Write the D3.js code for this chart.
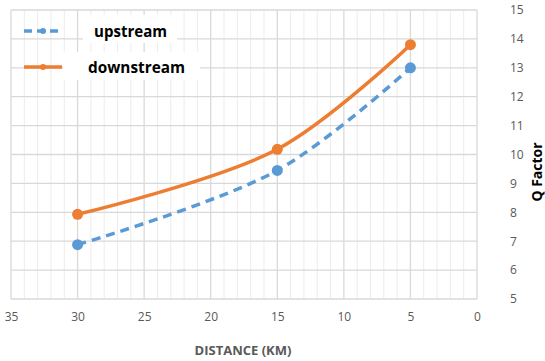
<!DOCTYPE html>
<html><head><meta charset="utf-8">
<script src="https://cdn.jsdelivr.net/npm/d3@7"></script>
<style>body{margin:0;background:#fff}svg{display:block}</style>
</head><body>
<svg id="c" width="545" height="361"></svg>
<script>
const distances = [30, 15, 5];
const upstream = [6.88, 9.45, 13.0];
const downstream = [7.93, 10.18, 13.8];
const seriesNames = ["upstream", "downstream"];
const xTicks = [35, 30, 25, 20, 15, 10, 5, 0];
const yTicks = [5, 6, 7, 8, 9, 10, 11, 12, 13, 14, 15];

const svg = d3.select("#c");
const x = d3.scaleLinear().domain([35, 0]).range([11, 477]);
const y = d3.scaleLinear().domain([5, 15]).range([299, 10]);

// minor vertical grid
svg.append("g").selectAll("line").data(d3.range(0, 36, 1).filter(v => v % 5 !== 0))
  .join("line").attr("x1", d => x(d)).attr("x2", d => x(d)).attr("y1", y(5)).attr("y2", y(15))
  .attr("stroke", "#ececec").attr("stroke-width", 1);
// major horizontal grid
svg.append("g").selectAll("line").data(yTicks)
  .join("line").attr("x1", x(35)).attr("x2", x(0)).attr("y1", d => y(d)).attr("y2", d => y(d))
  .attr("stroke", "#d9d9d9").attr("stroke-width", 1.3);
// major vertical grid
svg.append("g").selectAll("line").data(xTicks)
  .join("line").attr("x1", d => x(d)).attr("x2", d => x(d)).attr("y1", y(5)).attr("y2", y(15))
  .attr("stroke", "#d9d9d9").attr("stroke-width", 1.3);

// axes
const xAxis = d3.axisBottom(x).tickValues(xTicks).tickSize(0).tickPadding(13);
const gx = svg.append("g").attr("transform", `translate(0,${y(5)})`).call(xAxis);
gx.select(".domain").remove();
gx.selectAll("text").attr("fill", "#595959").style("font-family", "'Open Sans', sans-serif").style("font-size", "12px");

const yAxis = d3.axisRight(y).tickValues(yTicks).tickSize(0).tickPadding(33);
const gy = svg.append("g").attr("transform", `translate(${x(0)},0)`).call(yAxis);
gy.select(".domain").remove();
gy.selectAll("text").attr("fill", "#595959").style("font-family", "'Open Sans', sans-serif").style("font-size", "12px");

// legend white boxes
svg.append("rect").attr("x", 83).attr("y", 15).attr("width", 94).attr("height", 28).attr("fill", "#fff");
svg.append("rect").attr("x", 63).attr("y", 52).attr("width", 137).attr("height", 28).attr("fill", "#fff");

const colors = ["#5b9bd5", "#ed7d31"];
const data = [upstream, downstream];
const line = d3.line().x(d => x(d[0])).y(d => y(d[1])).curve(d3.curveCatmullRom.alpha(0.5));

data.forEach((vals, i) => {
  const pts = distances.map((d, j) => [d, vals[j]]);
  svg.append("path").datum(pts).attr("d", line).attr("fill", "none")
    .attr("stroke", colors[i]).attr("stroke-width", 3.5)
    .attr("stroke-dasharray", i === 0 ? "9,6" : null);
  svg.append("g").selectAll("circle").data(pts).join("circle")
    .attr("cx", d => x(d[0])).attr("cy", d => y(d[1])).attr("r", 5.5).attr("fill", colors[i]);
});

// legend
const legY = [31, 67];
const legTextX = [94, 88];
const legTextLen = [73, 97];
seriesNames.forEach((n, i) => {
  svg.append("line").attr("x1", 24).attr("x2", 62).attr("y1", legY[i]).attr("y2", legY[i])
    .attr("stroke", colors[i]).attr("stroke-width", 3.5)
    .attr("stroke-dasharray", i === 0 ? "8,5" : null);
  svg.append("circle").attr("cx", 43).attr("cy", legY[i]).attr("r", 3).attr("fill", colors[i]);
  svg.append("text").attr("x", legTextX[i]).attr("y", legY[i] + 6).text(n)
    .attr("textLength", legTextLen[i]).attr("lengthAdjust", "spacingAndGlyphs")
    .attr("fill", "#000").style("font-family", "'Open Sans', sans-serif").style("font-weight", "bold")
    .style("font-size", "16px");
});

// axis titles
svg.append("text").attr("x", 243).attr("y", 355).attr("text-anchor", "middle").text("DISTANCE (KM)")
  .attr("fill", "#595959").style("font-family", "'Open Sans', sans-serif").style("font-weight", "bold").style("font-size", "13px");
svg.append("text").attr("transform", "translate(542,172) rotate(-90)").attr("text-anchor", "middle").text("Q Factor")
  .attr("fill", "#000").style("font-family", "'Open Sans', sans-serif").style("font-weight", "bold").style("font-size", "14px");
</script>
</body></html>
